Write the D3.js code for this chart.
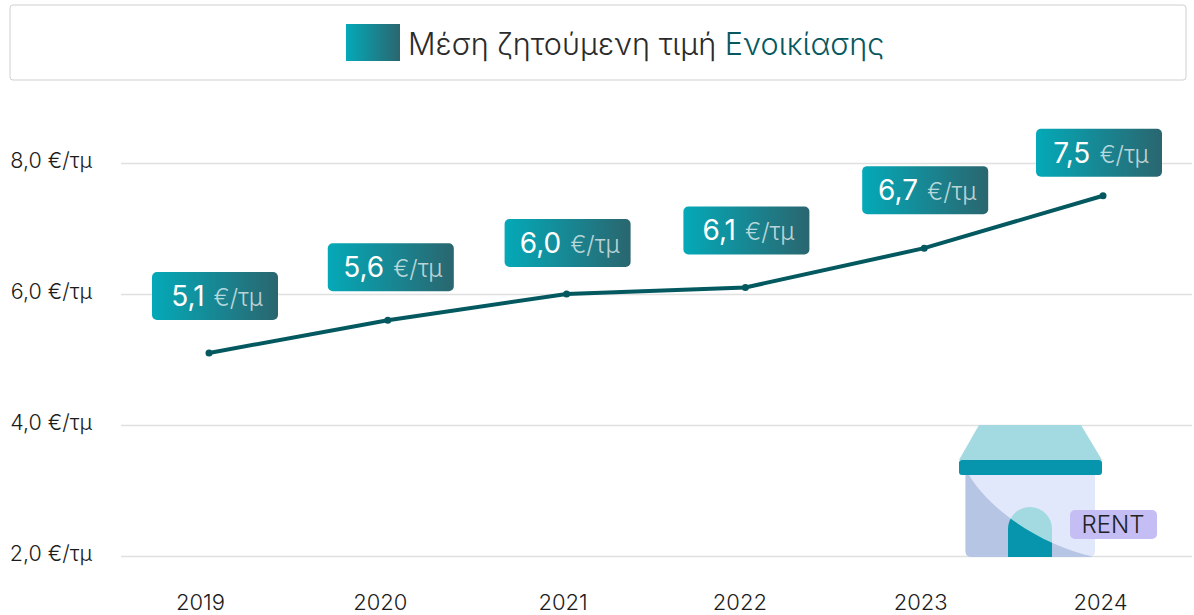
<!DOCTYPE html>
<html>
<head>
<meta charset="utf-8">
<script src="https://cdn.jsdelivr.net/npm/d3@7"></script>
<style>
  html, body { margin: 0; padding: 0; background: #fff; overflow: hidden; }
  text { font-family: "Inter", sans-serif; }
</style>
</head>
<body>
<svg id="chart"></svg>
<script>
let w = 1194;
let h = 615;

let years = ["2019", "2020", "2021", "2022", "2023", "2024"];
let rents = [5.1, 5.6, 6.0, 6.1, 6.7, 7.5];
let yTicks = [2, 4, 6, 8];
let titleDark = "Μέση ζητούμενη τιμή ";
let titleAccent = "Ενοικίασης";
let unit = "€/τμ";

// the value boxes are hand placed in the original, offsets from their point
let boxDx = [6, 3, 1, 1, 1, -4];
let boxDy = [-57, -53, -51, -57, -58, -43];
// year labels do not sit exactly under their points either
let yearDx = [-9, -8, -4, -6, -4, -3];

let boxW = 126, boxH = 48;
let fmt = (d) => d.toFixed(1).replace(".", ",");

let chart = d3.select("#chart").attr("width", w).attr("height", h);

let defs = chart.append("defs");
let grad = defs.append("linearGradient").attr("id", "teal");
grad.append("stop").attr("offset", "0%").attr("stop-color", "#04a9b8");
grad.append("stop").attr("offset", "100%").attr("stop-color", "#2a666f");

defs.append("clipPath").attr("id", "underCurve")
  .append("path")
  .attr("d", "M969,475 C990,510 1040,545 1095,557 L1095,560 L960,560 L960,475 Z");

let xScale = d3.scalePoint().domain(years).range([209, 1103]);
let yScale = d3.scaleLinear().domain([2, 8]).range([556, 163]);

// title box
chart.append("rect")
  .attr("x", 10).attr("y", 5)
  .attr("width", 1176).attr("height", 75)
  .attr("rx", 3)
  .attr("fill", "#fff")
  .attr("stroke", "#d0d0d0");

chart.append("rect")
  .attr("x", 346).attr("y", 24)
  .attr("width", 54).attr("height", 37)
  .attr("fill", "url(#teal)");

let title = chart.append("text")
  .attr("x", 408).attr("y", 55)
  .attr("font-size", 30.6)
  .attr("font-weight", 300);
title.append("tspan").attr("fill", "#2b2b2b").text(titleDark);
title.append("tspan").attr("fill", "#06585f").text(titleAccent);

// y axis with gridlines
let yAxis = d3.axisLeft(yScale)
  .tickValues(yTicks)
  .tickSize(-(1192 - 121))
  .tickPadding(29)
  .tickFormat((d) => fmt(d) + " " + unit);

let yAxisGroup = chart.append("g")
  .attr("transform", "translate(121, 0)")
  .call(yAxis);
yAxisGroup.select(".domain").remove();
yAxisGroup.selectAll("line").attr("stroke", "#e0e0e0").attr("stroke-width", 1.3);
yAxisGroup.selectAll("text")
  .attr("font-size", 21.5)
  .attr("font-weight", 300)
  .attr("y", -2)
  .attr("fill", "#1c1c1c");

// x axis
let xAxis = d3.axisBottom(xScale).tickSize(0).tickPadding(0);
let xAxisGroup = chart.append("g")
  .attr("transform", "translate(0, 594)")
  .call(xAxis);
xAxisGroup.select(".domain").remove();
xAxisGroup.selectAll("text")
  .attr("font-size", 22)
  .attr("font-weight", 300)
  .attr("x", (d, i) => yearDx[i])
  .attr("fill", "#1c1c1c");

// rent house, decoration
let house = chart.append("g");
house.append("path")
  .attr("d", "M979,425 L1081,425 L1102,460 L959,460 Z")
  .attr("fill", "#a3d9e0");
house.append("path")
  .attr("d", "M965.5,475 H1095 V551 Q1095,557 1089,557 H971.5 Q965.5,557 965.5,551 Z")
  .attr("fill", "#e2e8fb");
house.append("path")
  .attr("d", "M965.5,475 H1095 V551 Q1095,557 1089,557 H971.5 Q965.5,557 965.5,551 Z")
  .attr("fill", "#b5c5e3")
  .attr("clip-path", "url(#underCurve)");
house.append("path")
  .attr("d", "M1008,557 V529 A22,22 0 0 1 1052,529 V557 Z")
  .attr("fill", "#a3d9e0");
house.append("path")
  .attr("d", "M1008,557 V529 A22,22 0 0 1 1052,529 V557 Z")
  .attr("fill", "#0795ad")
  .attr("clip-path", "url(#underCurve)");
house.append("rect")
  .attr("x", 959).attr("y", 460)
  .attr("width", 143).attr("height", 15)
  .attr("rx", 3)
  .attr("fill", "#0795ad");
house.append("rect")
  .attr("x", 1070).attr("y", 510)
  .attr("width", 87).attr("height", 29)
  .attr("rx", 5)
  .attr("fill", "#c4bef5");
house.append("text")
  .attr("x", 1113).attr("y", 533)
  .attr("text-anchor", "middle")
  .attr("font-size", 24)
  .attr("font-weight", 300)
  .attr("fill", "#222")
  .text("RENT");

// line and points
let points = years.map((y, i) => ({ year: y, value: rents[i], i: i }));

let line = d3.line().x((d) => xScale(d.year)).y((d) => yScale(d.value));

chart.append("path")
  .datum(points)
  .attr("d", line)
  .attr("fill", "none")
  .attr("stroke", "#03595f")
  .attr("stroke-width", 4);

chart.selectAll(".dot").data(points).join("circle")
  .attr("class", "dot")
  .attr("cx", (d) => xScale(d.year))
  .attr("cy", (d) => yScale(d.value))
  .attr("r", 3.5)
  .attr("fill", "#03595f");

// value boxes
let boxes = chart.selectAll(".box").data(points).join("g")
  .attr("class", "box")
  .attr("transform", (d) => `translate(${xScale(d.year) + boxDx[d.i]}, ${yScale(d.value) + boxDy[d.i]})`);

boxes.append("rect")
  .attr("x", -boxW / 2).attr("y", -boxH / 2)
  .attr("width", boxW).attr("height", boxH)
  .attr("rx", 5)
  .attr("fill", "url(#teal)");

let labels = boxes.append("text")
  .attr("text-anchor", "middle")
  .attr("x", 2)
  .attr("y", 10)
  .attr("fill", "#fff");
labels.append("tspan").attr("font-size", 28).attr("font-weight", 400).text((d) => fmt(d.value));
labels.append("tspan").attr("font-size", 24).attr("font-weight", 300).attr("fill-opacity", 0.7).attr("dx", 9).text(unit);
</script>
</body>
</html>
